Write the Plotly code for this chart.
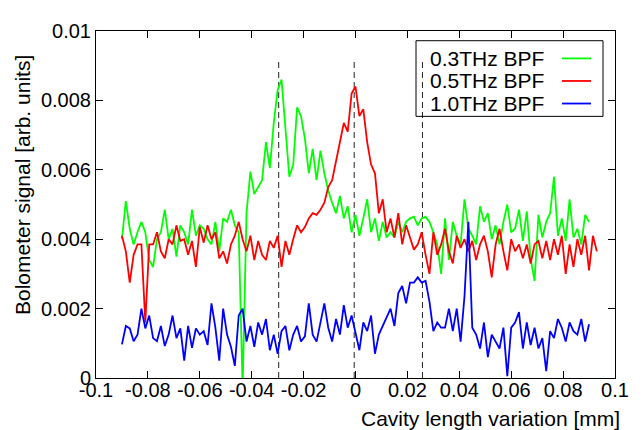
import plotly.graph_objects as go

# Cavity length variation [mm] (sampling positions)
x_mm = [
    -0.0900, -0.0885, -0.0870, -0.0855, -0.0840, -0.0825, -0.0810, -0.0795, -0.0780, -0.0765,
    -0.0750, -0.0735, -0.0720, -0.0705, -0.0690, -0.0675, -0.0660, -0.0645, -0.0630, -0.0615,
    -0.0600, -0.0585, -0.0570, -0.0555, -0.0540, -0.0525, -0.0510, -0.0495, -0.0480, -0.0465,
    -0.0450, -0.0435, -0.0420, -0.0405, -0.0390, -0.0375, -0.0360, -0.0345, -0.0330, -0.0315,
    -0.0300, -0.0285, -0.0270, -0.0255, -0.0240, -0.0225, -0.0210, -0.0195, -0.0180, -0.0165,
    -0.0150, -0.0135, -0.0120, -0.0105, -0.0090, -0.0075, -0.0060, -0.0045, -0.0030, -0.0015,
    0.0000, 0.0015, 0.0030, 0.0045, 0.0060, 0.0075, 0.0090, 0.0105, 0.0120, 0.0135,
    0.0150, 0.0165, 0.0180, 0.0195, 0.0210, 0.0225, 0.0240, 0.0255, 0.0270, 0.0285,
    0.0300, 0.0315, 0.0330, 0.0345, 0.0360, 0.0375, 0.0390, 0.0405, 0.0420, 0.0435,
    0.0450, 0.0465, 0.0480, 0.0495, 0.0510, 0.0525, 0.0540, 0.0555, 0.0570, 0.0585,
    0.0600, 0.0615, 0.0630, 0.0645, 0.0660, 0.0675, 0.0690, 0.0705, 0.0720, 0.0735,
    0.0750, 0.0765, 0.0780, 0.0795, 0.0810, 0.0825, 0.0840, 0.0855, 0.0870, 0.0885,
    0.0900, 0.0915, 0.0930,
]

bpf_03thz = [
    0.00400, 0.00510, 0.00430, 0.00385, 0.00420, 0.00450, 0.00420, 0.00340, 0.00320, 0.00400,
    0.00420, 0.00485, 0.00400, 0.00430, 0.00350, 0.00440, 0.00420, 0.00385, 0.00485, 0.00410,
    0.00440, 0.00430, 0.00400, 0.00385, 0.00450, 0.00365, 0.00460, 0.00450, 0.00485, 0.00440,
    0.00420, -0.00030, 0.00475, 0.00595, 0.00530, 0.00550, 0.00570, 0.00680, 0.00605, 0.00735,
    0.00830, 0.00860, 0.00720, 0.00580, 0.00615, 0.00780, 0.00755, 0.00690, 0.00590, 0.00660,
    0.00570, 0.00655, 0.00590, 0.00540, 0.00505, 0.00475, 0.00525, 0.00460, 0.00495, 0.00420,
    0.00470, 0.00410, 0.00460, 0.00515, 0.00420, 0.00460, 0.00395, 0.00450, 0.00405, 0.00420,
    0.00405, 0.00450, 0.00420, 0.00450, 0.00460, 0.00465, 0.00440, 0.00460, 0.00465, 0.00450,
    0.00420, 0.00385, 0.00300, 0.00460, 0.00340, 0.00450, 0.00410, 0.00385, 0.00515, 0.00430,
    0.00410, 0.00385, 0.00495, 0.00450, 0.00475, 0.00400, 0.00440, 0.00385, 0.00450, 0.00500,
    0.00420, 0.00430, 0.00485, 0.00395, 0.00480, 0.00345, 0.00280, 0.00470, 0.00405, 0.00450,
    0.00475, 0.00580, 0.00410, 0.00460, 0.00395, 0.00515, 0.00405, 0.00430, 0.00385, 0.00470,
    0.00450,
]

bpf_05thz = [
    0.00410, 0.00365, 0.00275, 0.00355, 0.00385, 0.00385, 0.00160, 0.00385, 0.00385, 0.00420,
    0.00365, 0.00345, 0.00400, 0.00385, 0.00440, 0.00395, 0.00400, 0.00355, 0.00395, 0.00320,
    0.00435, 0.00390, 0.00440, 0.00400, 0.00420, 0.00345, 0.00365, 0.00330, 0.00385, 0.00410,
    0.00450, 0.00400, 0.00365, 0.00410, 0.00340, 0.00395, 0.00355, 0.00340, 0.00395, 0.00375,
    0.00410, 0.00320, 0.00395, 0.00355, 0.00400, 0.00440, 0.00420, 0.00435, 0.00460, 0.00475,
    0.00470, 0.00485, 0.00505, 0.00550, 0.00570, 0.00625, 0.00670, 0.00735, 0.00710, 0.00820,
    0.00840, 0.00755, 0.00775, 0.00680, 0.00615, 0.00590, 0.00475, 0.00515, 0.00420, 0.00460,
    0.00405, 0.00475, 0.00385, 0.00440, 0.00405, 0.00370, 0.00385, 0.00420, 0.00355, 0.00300,
    0.00420, 0.00355, 0.00385, 0.00430, 0.00365, 0.00330, 0.00410, 0.00375, 0.00400, 0.00365,
    0.00395, 0.00340, 0.00385, 0.00410, 0.00365, 0.00290, 0.00385, 0.00430, 0.00365, 0.00310,
    0.00400, 0.00365, 0.00385, 0.00345, 0.00385, 0.00330, 0.00385, 0.00395, 0.00345, 0.00395,
    0.00340, 0.00400, 0.00355, 0.00410, 0.00300, 0.00385, 0.00320, 0.00400, 0.00355, 0.00410,
    0.00310, 0.00410, 0.00365,
]

bpf_10thz = [
    0.00097, 0.00150, 0.00143, 0.00106, 0.00125, 0.00200, 0.00143, 0.00180, 0.00115, 0.00106,
    0.00150, 0.00092, 0.00125, 0.00180, 0.00115, 0.00143, 0.00050, 0.00150, 0.00087, 0.00143,
    0.00125, 0.00135, 0.00095, 0.00215, 0.00145, 0.00050, 0.00200, 0.00125, 0.00090, 0.00035,
    0.00180, 0.00200, 0.00105, 0.00150, 0.00090, 0.00160, 0.00125, 0.00170, 0.00080, 0.00125,
    0.00070, 0.00135, 0.00150, 0.00080, 0.00125, 0.00150, 0.00105, 0.00120, 0.00215, 0.00125,
    0.00105, 0.00160, 0.00215, 0.00145, 0.00105, 0.00170, 0.00125, 0.00210, 0.00145, 0.00180,
    0.00125, 0.00080, 0.00160, 0.00135, 0.00180, 0.00070, 0.00125, 0.00150, 0.00170, 0.00200,
    0.00150, 0.00245, 0.00265, 0.00215, 0.00275, 0.00275, 0.00290, 0.00275, 0.00280, 0.00220,
    0.00135, 0.00160, 0.00145, 0.00145, 0.00200, 0.00135, 0.00200, 0.00105, 0.00235, 0.00450,
    0.00145, 0.00125, 0.00085, 0.00160, 0.00060, 0.00125, 0.00105, 0.00085, 0.00145, 0.00005,
    0.00145, 0.00160, 0.00190, 0.00085, 0.00160, 0.00095, 0.00145, 0.00085, 0.00115, 0.00020,
    0.00135, 0.00115, 0.00170, 0.00145, 0.00105, 0.00160, 0.00135, 0.00125, 0.00170, 0.00105,
    0.00155,
]

series_names = ["0.3THz BPF", "0.5THz BPF", "1.0THz BPF"]
series_colors = ["#00ff00", "#ff0000", "#0000ff"]

# Vertical dashed reference positions [mm] and their top value
ref_positions = [-0.0296, -0.0005, 0.0258]
ref_top = 0.00915

x_tickvals = [-0.1, -0.08, -0.06, -0.04, -0.02, 0, 0.02, 0.04, 0.06, 0.08, 0.1]
x_ticktext = ["-0.1", "-0.08", "-0.06", "-0.04", "-0.02", "0", "0.02", "0.04", "0.06", "0.08", "0.1"]
y_tickvals = [0, 0.002, 0.004, 0.006, 0.008, 0.01]
y_ticktext = ["0", "0.002", "0.004", "0.006", "0.008", "0.01"]

FONT = "Liberation Sans, Arial, sans-serif"

fig = go.Figure()

for p in ref_positions:
    fig.add_trace(go.Scatter(
        x=[p, p], y=[0, ref_top], mode="lines",
        line=dict(color="#222222", width=1, dash="6px,4px"),
        showlegend=False, hoverinfo="skip"))

for vals, name, col in zip([bpf_03thz, bpf_05thz, bpf_10thz], series_names, series_colors):
    fig.add_trace(go.Scatter(
        x=x_mm[:len(vals)], y=vals, mode="lines", name=name,
        line=dict(color=col, width=1.8), showlegend=False))

# gnuplot-style legend (text left, sample right) inside a box
box_x0, box_x1, box_y0, box_y1 = 0.6166, 0.9769, 0.754, 0.972
row_y = [0.921, 0.856, 0.791]
shapes = [dict(type="rect", xref="paper", yref="paper", x0=box_x0, x1=box_x1,
               y0=box_y0, y1=box_y1, line=dict(color="black", width=1),
               fillcolor="rgba(0,0,0,0)")]
annotations = []
for name, col, ry in zip(series_names, series_colors, row_y):
    annotations.append(dict(xref="paper", yref="paper", x=0.6397, y=ry, text=name,
                            showarrow=False, xanchor="left", yanchor="middle",
                            font=dict(family=FONT, size=21, color="black")))
    shapes.append(dict(type="line", xref="paper", yref="paper", x0=0.8979, x1=0.9538,
                       y0=ry, y1=ry, line=dict(color=col, width=1.8)))

annotations.append(dict(xref="paper", yref="paper", x=0.761, y=-0.117,
                        text="Cavity length variation [mm]", showarrow=False,
                        xanchor="center", yanchor="middle",
                        font=dict(family=FONT, size=21, color="black")))
annotations.append(dict(xref="paper", yref="paper", x=-0.1426, y=0.556,
                        text="Bolometer signal [arb. units]", showarrow=False,
                        textangle=-90, xanchor="center", yanchor="middle",
                        font=dict(family=FONT, size=21, color="black")))

# page has an 8px body margin, so the figure is 8px smaller and margins shifted
fig.update_layout(
    width=634, height=422,
    margin=dict(l=88, r=27, t=12, b=52),
    paper_bgcolor="white", plot_bgcolor="white",
    font=dict(family=FONT, size=20, color="black"),
    shapes=shapes, annotations=annotations,
    showlegend=False,
)
fig.update_xaxes(range=[-0.1, 0.1], tickvals=x_tickvals, ticktext=x_ticktext,
                 ticks="inside", ticklen=7, tickcolor="black", showline=True,
                 linecolor="black", linewidth=1, mirror="ticks", showgrid=False,
                 zeroline=False, tickfont=dict(family=FONT, size=20),
                 ticklabelstandoff=-6)
fig.update_yaxes(range=[0, 0.01], tickvals=y_tickvals, ticktext=y_ticktext,
                 ticks="inside", ticklen=7, tickcolor="black", showline=True,
                 linecolor="black", linewidth=1, mirror="ticks", showgrid=False,
                 zeroline=False, tickfont=dict(family=FONT, size=20))

fig.write_html("out.html")
